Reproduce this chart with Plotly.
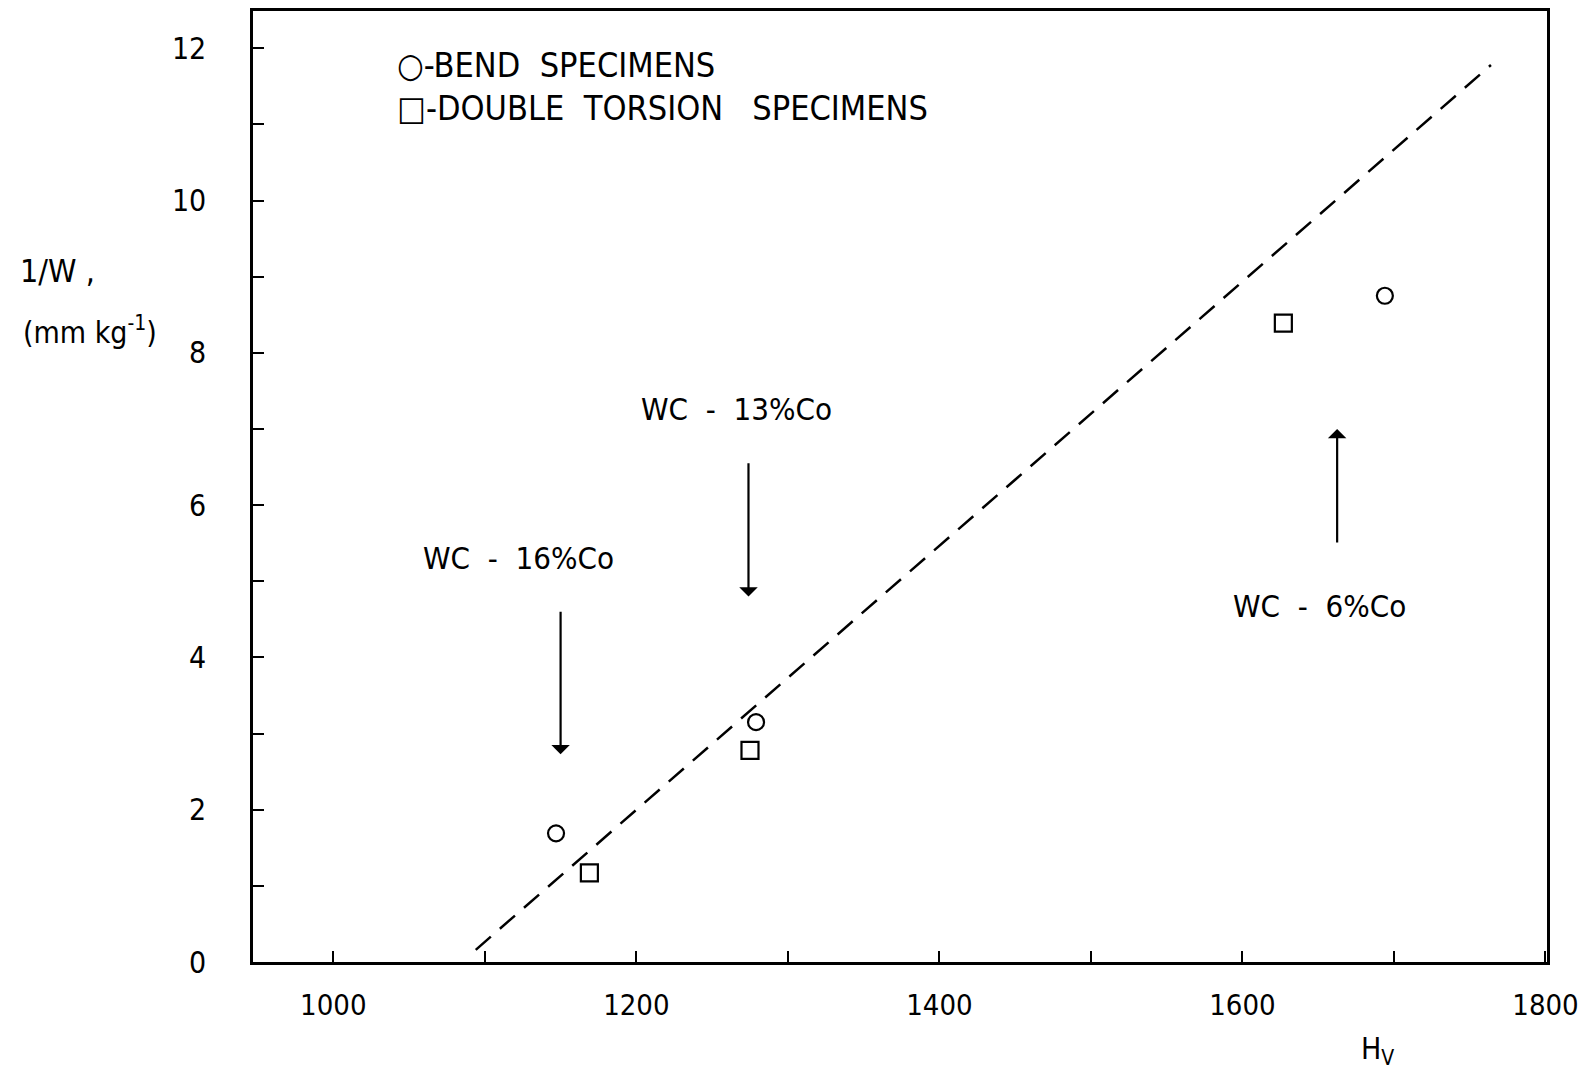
import plotly.graph_objects as go

# Data
bend_hv = [1147, 1279, 1694]
bend_inv_w = [1.69, 3.15, 8.75]
dt_hv = [1169, 1275, 1627]
dt_inv_w = [1.17, 2.78, 8.39]
fit_hv = [1094, 1764]
fit_inv_w = [0.16, 11.78]

x_ticks = [1000, 1200, 1400, 1600, 1800]
y_ticks = [0, 2, 4, 6, 8, 10, 12]

# annotations: label text, label position, arrow tail, arrow tip
labels = ["WC  -  16%Co", "WC  -  13%Co", "WC  -  6%Co"]
label_x = [1122, 1266, 1651]
label_y = [5.31, 7.26, 4.68]
arrow_x = [1150, 1274, 1662.5]
arrow_tail_y = [4.62, 6.57, 5.49]
arrow_tip_y = [2.73, 4.80, 7.00]

FONT = "DejaVu Sans Condensed, Liberation Sans Narrow, DejaVu Sans, sans-serif"

fig = go.Figure()
fig.add_trace(go.Scatter(
    x=fit_hv, y=fit_inv_w, mode="lines",
    line=dict(color="black", width=2.5, dash="20px,12px"),
    showlegend=False, hoverinfo="skip"))
fig.add_trace(go.Scatter(
    x=bend_hv, y=bend_inv_w, mode="markers", name="BEND SPECIMENS",
    marker=dict(symbol="circle-open", size=16, color="black", line=dict(width=2.2)),
    showlegend=False))
fig.add_trace(go.Scatter(
    x=dt_hv, y=dt_inv_w, mode="markers", name="DOUBLE TORSION SPECIMENS",
    marker=dict(symbol="square-open", size=17, color="black", line=dict(width=2.2)),
    showlegend=False))

annotations = []
for t, lx, ly in zip(labels, label_x, label_y):
    annotations.append(dict(x=lx, y=ly, xref="x", yref="y", text=t, showarrow=False,
                            xanchor="center", yanchor="middle",
                            font=dict(family=FONT, size=31, color="black")))
for axv, ty, hy in zip(arrow_x, arrow_tail_y, arrow_tip_y):
    annotations.append(dict(x=axv, y=hy, ax=axv, ay=ty, xref="x", yref="y",
                            axref="x", ayref="y", text="", showarrow=True,
                            arrowhead=1, arrowsize=1.4, arrowwidth=2.2,
                            arrowcolor="black", standoff=0, startstandoff=0))

annotations += [
    dict(x=1041, y=11.78, xref="x", yref="y", text="○-BEND  SPECIMENS",
         xanchor="left", yanchor="middle",
         showarrow=False, font=dict(family=FONT, size=34, color="black")),
    dict(x=1041, y=11.21, xref="x", yref="y", text="□-DOUBLE  TORSION   SPECIMENS",
         xanchor="left", yanchor="middle",
         showarrow=False, font=dict(family=FONT, size=34, color="black")),
    dict(x=-0.151, y=0.727, xref="paper", yref="paper", text="1/W ,", showarrow=False,
         xanchor="center", yanchor="middle",
         font=dict(family=FONT, size=32, color="black")),
    dict(x=-0.126, y=0.664, xref="paper", yref="paper", text="(mm kg<sup>-1</sup>)", showarrow=False,
         xanchor="center", yanchor="middle",
         font=dict(family=FONT, size=30, color="black")),
    dict(x=0.869, y=-0.093, xref="paper", yref="paper", text="H<sub>V</sub>", showarrow=False,
         xanchor="center", yanchor="middle",
         font=dict(family=FONT, size=30, color="black")),
]

fig.update_layout(
    width=1580, height=1080,
    margin=dict(l=253, r=33, t=11, b=118, autoexpand=False),
    paper_bgcolor="white", plot_bgcolor="white",
    annotations=annotations,
    showlegend=False,
)
fig.update_xaxes(
    range=[947, 1801], tickvals=x_ticks, ticktext=[str(v) for v in x_ticks],
    ticks="inside", ticklen=11, tickwidth=2, tickcolor="black",
    minor=dict(dtick=100, tick0=1000, ticks="inside", ticklen=11, tickwidth=2, tickcolor="black"),
    showline=True, linecolor="black", linewidth=2.5, mirror=True,
    showgrid=False, zeroline=False, ticklabeloverflow="allow", automargin=False,
    tickfont=dict(family=FONT, size=29, color="black"), ticklabelstandoff=15,
)
fig.update_yaxes(
    range=[0, 12.49], tickvals=y_ticks, ticktext=[str(v) for v in y_ticks],
    ticks="inside", ticklen=11, tickwidth=2, tickcolor="black",
    minor=dict(dtick=1, tick0=0, ticks="inside", ticklen=11, tickwidth=2, tickcolor="black"),
    showline=True, linecolor="black", linewidth=2.5, mirror=True,
    showgrid=False, zeroline=False, automargin=False,
    tickfont=dict(family=FONT, size=30, color="black"), ticklabelstandoff=38,
)

fig.write_html("out.html")
